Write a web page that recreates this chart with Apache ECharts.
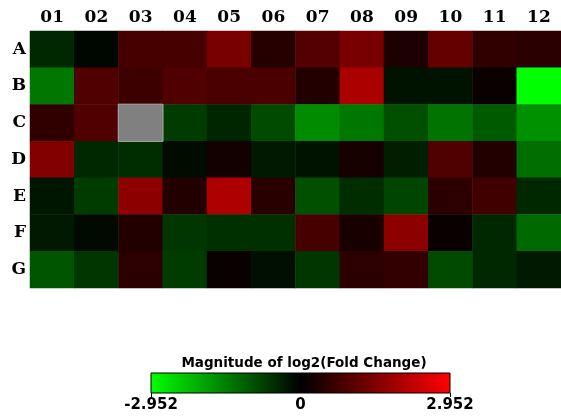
<!DOCTYPE html>
<html>
<head>
<meta charset="utf-8">
<script src="https://cdn.jsdelivr.net/npm/echarts@6/dist/echarts.min.js"></script>
<style>html,body{margin:0;padding:0;background:#fff;}#c{width:561px;height:416px;}</style>
</head>
<body>
<div id="c"></div>
<script>
var columns = ['01','02','03','04','05','06','07','08','09','10','11','12'];
var rows = ['A','B','C','D','E','F','G'];
var rowA = [-0.46, -0.08, 0.81, 0.81, 1.39, 0.44, 0.98, 1.39, 0.33, 1.16, 0.56, 0.5];
var rowB = [-1.39, 0.93, 0.69, 0.93, 0.87, 0.87, 0.4, 1.97, -0.21, -0.21, 0.13, -2.952];
var rowC = [0.56, 0.93, null, -0.69, -0.44, -0.87, -1.62, -1.39, -0.93, -1.33, -1.04, -1.68];
var rowD = [1.5, -0.46, -0.52, -0.14, 0.22, -0.29, -0.21, 0.25, -0.35, 0.93, 0.4, -1.27];
var rowE = [-0.25, -0.69, 1.62, 0.4, 2.03, 0.46, -0.93, -0.52, -0.81, 0.52, 0.75, -0.46];
var rowF = [-0.29, -0.12, 0.4, -0.64, -0.56, -0.56, 0.81, 0.28, 1.62, 0.13, -0.46, -1.22];
var rowG = [-0.98, -0.64, 0.52, -0.69, 0.11, -0.17, -0.64, 0.52, 0.58, -0.87, -0.46, -0.29];
var missingCells = [[2, 2]]; // [column index, row index] without a value
var scaleMin = -2.952, scaleMax = 2.952;

var allRows = [rowA, rowB, rowC, rowD, rowE, rowF, rowG];
var data = [];
allRows.forEach(function (r, yi) {
  r.forEach(function (v, xi) {
    if (v !== null) data.push([xi, yi, v]);
  });
});
var missingData = missingCells.map(function (c) { return [c[0], c[1], 0]; });

var chart = echarts.init(document.getElementById('c'));
chart.setOption({
  animation: false,
  backgroundColor: '#fff',
  title: {
    text: 'Magnitude of log2(Fold Change)',
    left: 299, top: 351, textAlign: 'center',
    textStyle: { fontFamily: 'DejaVu Sans', fontWeight: 'bold', fontSize: 13.5, color: '#000' }
  },
  grid: [
    { left: 30, top: 31, width: 536, height: 257, containLabel: false },
    { left: 151, top: 373, width: 299, height: 20, show: true, borderColor: '#000', borderWidth: 1,
      backgroundColor: new echarts.graphic.LinearGradient(0, 0, 1, 0, [
        { offset: 0, color: '#00ff00' }, { offset: 0.5, color: '#000000' }, { offset: 1, color: '#ff0000' }
      ]) }
  ],
  xAxis: [
    { type: 'category', data: columns, position: 'top', gridIndex: 0,
      axisLine: { show: false }, axisTick: { show: false }, splitLine: { show: false },
      axisLabel: { fontFamily: 'DejaVu Serif', fontWeight: 'bold', fontSize: 17, color: '#000', margin: 5 } },
    { type: 'value', gridIndex: 1, min: scaleMin, max: scaleMax, interval: scaleMax,
      axisLine: { show: false }, splitLine: { show: false },
      axisTick: { show: true, length: 4, lineStyle: { color: '#000' }, customValues: [scaleMin, scaleMax] },
      axisLabel: { fontFamily: 'DejaVu Sans', fontWeight: 'bold', fontSize: 15, color: '#000', margin: 5,
        formatter: function (v) { return Math.abs(v) < 1e-9 ? '0' : v.toFixed(3); } } }
  ],
  yAxis: [
    { type: 'category', data: rows, inverse: true, gridIndex: 0,
      axisLine: { show: false }, axisTick: { show: false }, splitLine: { show: false },
      axisLabel: { fontFamily: 'DejaVu Serif', fontWeight: 'bold', fontSize: 17, color: '#000', margin: 4 } },
    { type: 'value', gridIndex: 1, show: false }
  ],
  visualMap: {
    type: 'continuous', show: false, min: scaleMin, max: scaleMax, seriesIndex: 0, dimension: 2,
    inRange: { color: ['#00ff00', '#000000', '#ff0000'] }
  },
  series: [
    { type: 'heatmap', xAxisIndex: 0, yAxisIndex: 0, data: data, itemStyle: { borderWidth: 0 } },
    { type: 'heatmap', xAxisIndex: 0, yAxisIndex: 0, data: missingData,
      itemStyle: { color: '#808080', borderColor: '#a8a8a8', borderWidth: 1 } }
  ]
});
</script>
</body>
</html>
